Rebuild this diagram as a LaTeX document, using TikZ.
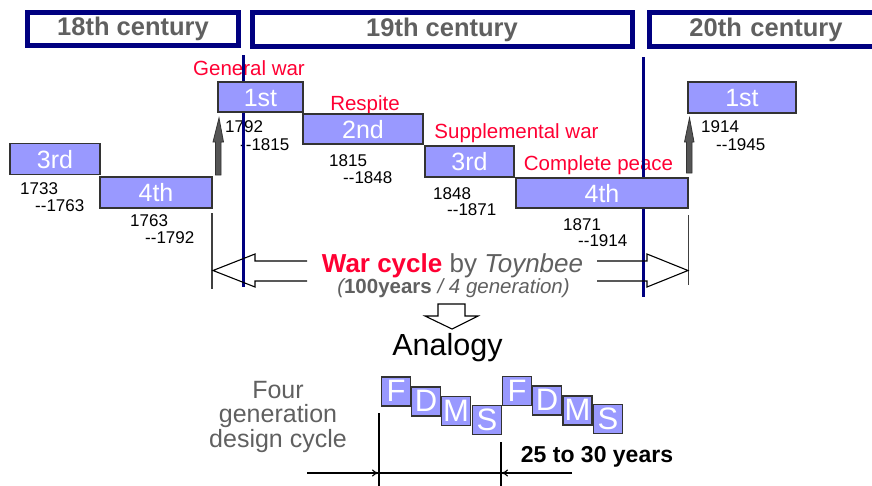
\documentclass[tikz,border=0pt]{standalone}
\usepackage{fontspec}
\setmainfont{Liberation Sans}
\usetikzlibrary{arrows.meta}
\definecolor{navy}{HTML}{000080}
\definecolor{lav}{HTML}{9999FF}
\definecolor{warred}{HTML}{FF0033}
\definecolor{txtgray}{HTML}{606060}
\definecolor{boxedge}{HTML}{333333}
\definecolor{arrgray}{HTML}{555555}
\newcommand{\dd}{-{}-}
\begin{document}
\begin{tikzpicture}[x=1pt,y=-1pt,
  century/.style={draw=navy,line width=5pt,inner sep=0pt,
    font=\fontsize{25.5}{28}\selectfont\bfseries,text=txtgray,
    text height=18pt,text depth=5pt},
  genbox/.style={draw=boxedge,fill=lav,line width=1.2pt,inner sep=0pt,
    font=\fontsize{25}{28}\selectfont,text=white,text height=18pt,text depth=0pt},
  redlabel/.style={anchor=base,inner sep=0pt,text=warred,font=\fontsize{20.5}{24}\selectfont},
  yearlabel/.style={anchor=base west,inner sep=0pt,font=\fontsize{17}{20}\selectfont},
  navyline/.style={draw=navy,line width=2.2pt},
  thinline/.style={draw=black!75,line width=1.3pt},
  hollow/.style={draw=black,line width=1.1pt,line join=miter},
  uparrow/.style={fill=arrgray,draw=boxedge,line width=0.8pt,line join=miter},
  letterbox/.style={draw=boxedge,fill=lav,line width=1.5pt,inner sep=0pt,
    minimum width=29,minimum height=29,font=\fontsize{31}{33}\selectfont,text=white,
    text height=20pt,text depth=0pt},
  dimline/.style={draw=black,line width=1.1pt},
  dimarrow/.style={draw=black,line width=1.1pt,-{To[length=7pt,width=7pt]}}
]
\useasboundingbox (0,0) rectangle (872,485);

% century boxes
\node[century,minimum width=211,minimum height=33] (c18) at (133,29) {18th century};
\node[century,minimum width=380,minimum height=34] (c19) at (442,29.5) {19th century};
\node[century,minimum width=235,minimum height=34,text width=235,align=center] (c20) at (767,29.5) {\hspace*{-2pt}20th century};

% red labels
\node[redlabel] (lgw) at (249,75) {General war};
\node[redlabel] (lrs) at (365,110) {Respite};
\node[redlabel] (lsw) at (516.5,138) {Supplemental war};
\node[redlabel] (lcp) at (598.5,170) {Complete peace};

% years
\node[yearlabel] (y1a) at (20,194) {1733};
\node[yearlabel] (y1b) at (35,211) {\dd1763};
\node[yearlabel] (y2a) at (130,226) {1763};
\node[yearlabel] (y2b) at (145,243) {\dd1792};
\node[yearlabel] (y3a) at (225,132) {1792};
\node[yearlabel] (y3b) at (240,150) {\dd1815};
\node[yearlabel] (y4a) at (329,166) {1815};
\node[yearlabel] (y4b) at (343,183) {\dd1848};
\node[yearlabel] (y5a) at (433,199) {1848};
\node[yearlabel] (y5b) at (447,215) {\dd1871};
\node[yearlabel] (y6a) at (563,230) {1871};
\node[yearlabel] (y6b) at (578,246) {\dd1914};
\node[yearlabel] (y7a) at (701,132) {1914};
\node[yearlabel] (y7b) at (716,150) {\dd1945};

% vertical lines
\coordinate (nl1t) at (243.5,55); \coordinate (nl1b) at (243.5,287);
\coordinate (nl2t) at (643.5,57); \coordinate (nl2b) at (643.5,297);
\draw[navyline] (nl1t) -- (nl1b);
\draw[navyline] (nl2t) -- (nl2b);
\coordinate (tl1t) at (212,213); \coordinate (tl1b) at (212,289);
\coordinate (tl2t) at (688.5,215); \coordinate (tl2b) at (688.5,285);
\draw[thinline] (tl1t) -- (tl1b);
\draw[thinline] (tl2t) -- (tl2b);

% generation boxes
\node[genbox,minimum width=90,minimum height=31] (g3a) at (55,159) {3rd};
\node[genbox,minimum width=112,minimum height=31] (g4a) at (156,192.5) {4th};
\node[genbox,minimum width=85,minimum height=30] (g1a) at (260.5,97) {1st};
\node[genbox,minimum width=120,minimum height=30] (g2) at (363,129) {2nd};
\node[genbox,minimum width=89,minimum height=31] (g3b) at (469.5,161.5) {3rd};
\node[genbox,minimum width=172,minimum height=30] (g4b) at (602,193) {4th};
\node[genbox,minimum width=108,minimum height=31] (g1b) at (742,97.5) {1st};

% up arrows
\fill[uparrow] (219,118) -- (223.5,142) -- (221,142) -- (221,175) -- (215.5,175) -- (215.5,142) -- (213,142) -- cycle;
\fill[uparrow] (689.5,118) -- (694,142) -- (692,142) -- (692,173) -- (686.5,173) -- (686.5,142) -- (684.5,142) -- cycle;

% hollow arrows
\draw[hollow] (307,261) -- (255,261) -- (255,254) -- (213,270.5) -- (255,287) -- (255,281) -- (307,281);
\draw[hollow] (597,261) -- (647,261) -- (647,254) -- (688,270.5) -- (647,287) -- (647,281) -- (597,281);

% war cycle text
\node[anchor=base,inner sep=0pt,font=\fontsize{26}{28}\selectfont] (wc) at (452.5,272)
  {\textcolor{warred}{\bfseries War cycle} \textcolor{txtgray}{by \itshape Toynbee}};
\node[anchor=base,inner sep=0pt,font=\fontsize{20.5}{22}\selectfont\itshape,text=txtgray] (wc2) at (453.5,293)
  {(\textbf{\upshape 100years} / 4 generation)};

% down arrow
\draw[hollow] (438,304) -- (465,304) -- (465,316) -- (478,316) -- (452,329) -- (425,316) -- (438,316) -- cycle;

\node[anchor=base,inner sep=0pt,font=\fontsize{30.5}{34}\selectfont] (ana) at (447.5,355) {Analogy};

% four generation
\node[anchor=north,inner sep=0pt,align=center,text=txtgray,font=\fontsize{25}{24.5}\selectfont] (fg) at (278,381)
  {Four\\generation\\design cycle};

% FDMS boxes
\node[letterbox] (f1) at (396,391.5) {F};
\node[letterbox] (d1) at (426,401.5) {D};
\node[letterbox] (m1) at (456,411) {M};
\node[letterbox] (s1) at (487,420) {S};
\node[letterbox] (f2) at (517,391) {F};
\node[letterbox] (d2) at (547,400.5) {D};
\node[letterbox] (m2) at (577.5,410.5) {M};
\node[letterbox] (s2) at (608,419) {S};

% dimension lines
\coordinate (v1t) at (379,413); \coordinate (v1b) at (379,486);
\coordinate (v2t) at (501,442); \coordinate (v2b) at (501,486);
\coordinate (h1) at (379,473); \coordinate (h2) at (501,473);
\coordinate (a1) at (307,473); \coordinate (a2) at (572,473);
\draw[dimline] (v1t) -- (v1b);
\draw[dimline] (v2t) -- (v2b);
\draw[dimline] (h1) -- (h2);
\draw[dimarrow] (a1) -- (h1);
\draw[dimarrow] (a2) -- (h2);

\node[anchor=base,inner sep=0pt,font=\fontsize{23}{26}\selectfont\bfseries] (yrs) at (597,462) {25 to 30 years};
\end{tikzpicture}
\end{document}
